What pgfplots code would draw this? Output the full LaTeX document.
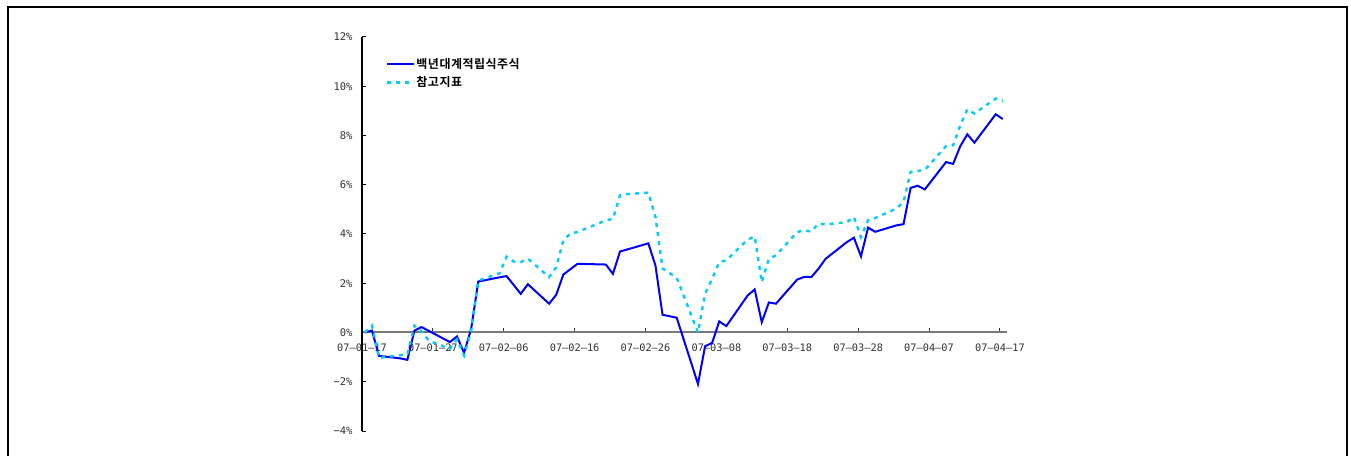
\documentclass[border=0pt]{standalone}
\usepackage{pgfplots}
\pgfplotsset{compat=1.18}
\usepackage{fontspec}
\setmainfont{Liberation Sans}
\setmonofont{DejaVu Sans Mono}
\newfontfamily\cjk{Noto Sans CJK KR}[BoldFont={Noto Sans CJK KR Bold}, LetterSpace=4]
\definecolor{fundblue}{RGB}{0,0,255}
\definecolor{refcyan}{RGB}{0,204,255}
\definecolor{axgray}{RGB}{120,120,120}

\pgfplotstableread{
d v
0 0.00
1 0.08
2 -0.95
5 -1.05
6 -1.11
7 0.08
8 0.22
9 0.07
12 -0.39
13 -0.16
14 -0.83
15 0.15
16 2.07
19 2.24
20 2.29
21 1.93
22 1.57
23 1.96
26 1.17
27 1.53
28 2.35
29 2.57
30 2.79
34 2.76
35 2.38
36 3.29
37 3.37
40 3.62
41 2.72
42 0.72
44 0.60
47 -2.09
48 -0.56
49 -0.42
50 0.45
51 0.26
54 1.50
55 1.75
56 0.42
57 1.22
58 1.17
61 2.15
62 2.26
63 2.25
64 2.59
65 2.99
68 3.67
69 3.85
70 3.09
71 4.26
72 4.09
75 4.35
76 4.40
77 5.87
78 5.96
79 5.81
82 6.92
83 6.85
84 7.56
85 8.05
86 7.71
89 8.86
90 8.67
}\fund

\pgfplotstableread{
d v
0 0.00
1 0.28
2 -1.03
5 -0.92
6 -0.88
7 0.28
8 0.05
9 -0.33
12 -0.66
13 -0.28
14 -0.93
15 0.05
16 2.11
19 2.40
20 3.08
21 2.88
22 2.86
23 3.00
26 2.25
27 2.65
28 3.74
29 4.02
30 4.08
34 4.55
35 4.62
36 5.57
37 5.62
40 5.68
41 4.70
42 2.60
44 2.22
47 0.00
48 1.57
49 2.18
50 2.86
51 2.93
54 3.77
55 3.90
56 2.04
57 3.00
58 3.13
61 4.08
62 4.15
63 4.10
64 4.42
65 4.39
68 4.48
69 4.69
70 3.87
71 4.56
72 4.65
75 5.03
76 5.30
77 6.52
78 6.56
79 6.60
82 7.57
83 7.60
84 8.41
85 9.06
86 8.89
89 9.50
90 9.40
}\refidx

\begin{document}
\begin{tikzpicture}[x=1pt,y=1pt]
\useasboundingbox (0,0) rectangle (1351,455);
\fill[white] (0,0) rectangle (1351,455);
\draw[line width=2pt,black] (8,-10) -- (8,448) -- (1347,448) -- (1347,-10);
\begin{axis}[
  at={(362pt,24pt)}, anchor=south west,
  scale only axis, width=645pt, height=394pt,
  xmin=-0.4, xmax=90.6, ymin=-4, ymax=12,
  axis x line=middle, axis y line=left,
  hide obscured x ticks=false, hide obscured y ticks=false,
  x axis line style={-, draw=axgray, line width=2pt},
  y axis line style={-, draw=black, line width=1.2pt},
  xtick={-0.4,9.6,19.6,29.6,39.6,49.6,59.6,69.6,79.6,89.6},
  xticklabels={07–01–17,07–01–27,07–02–06,07–02–16,07–02–26,07–03–08,07–03–18,07–03–28,07–04–07,07–04–17},
  ytick={-4,-2,0,2,4,6,8,10,12},
  yticklabels={−4\%,−2\%,0\%,2\%,4\%,6\%,8\%,10\%,12\%},
  tick align=inside,
  major tick length=4pt,
  x tick style={draw=black!80, line width=1pt},
  y tick style={draw=black, line width=1pt},
  xticklabel style={font=\ttfamily\fontsize{10.3}{12}\selectfont, text=black!80, anchor=north, yshift=-8pt},
  yticklabel style={font=\ttfamily\fontsize{10.5}{12}\selectfont, text=black!80, anchor=east, xshift=-6pt},
  legend style={at={(0.037,0.949)}, anchor=north west, draw=none, fill=none,
    font=\cjk\bfseries\fontsize{12}{14}\selectfont, row sep=5pt, inner sep=0pt,
    nodes={inner sep=1pt}},
  legend cell align=left,
  legend image code/.code={\draw[#1] (0pt,0pt) -- (27pt,0pt);},
  clip=false,
]
\addplot[fundblue, line width=2pt] table[x=d,y=v] {\fund};
\addplot[refcyan, line width=2.4pt, dash pattern=on 4pt off 5pt] table[x=d,y=v] {\refidx};
\legend{백년대계적립식주식,참고지표}
\end{axis}
\end{tikzpicture}
\end{document}
